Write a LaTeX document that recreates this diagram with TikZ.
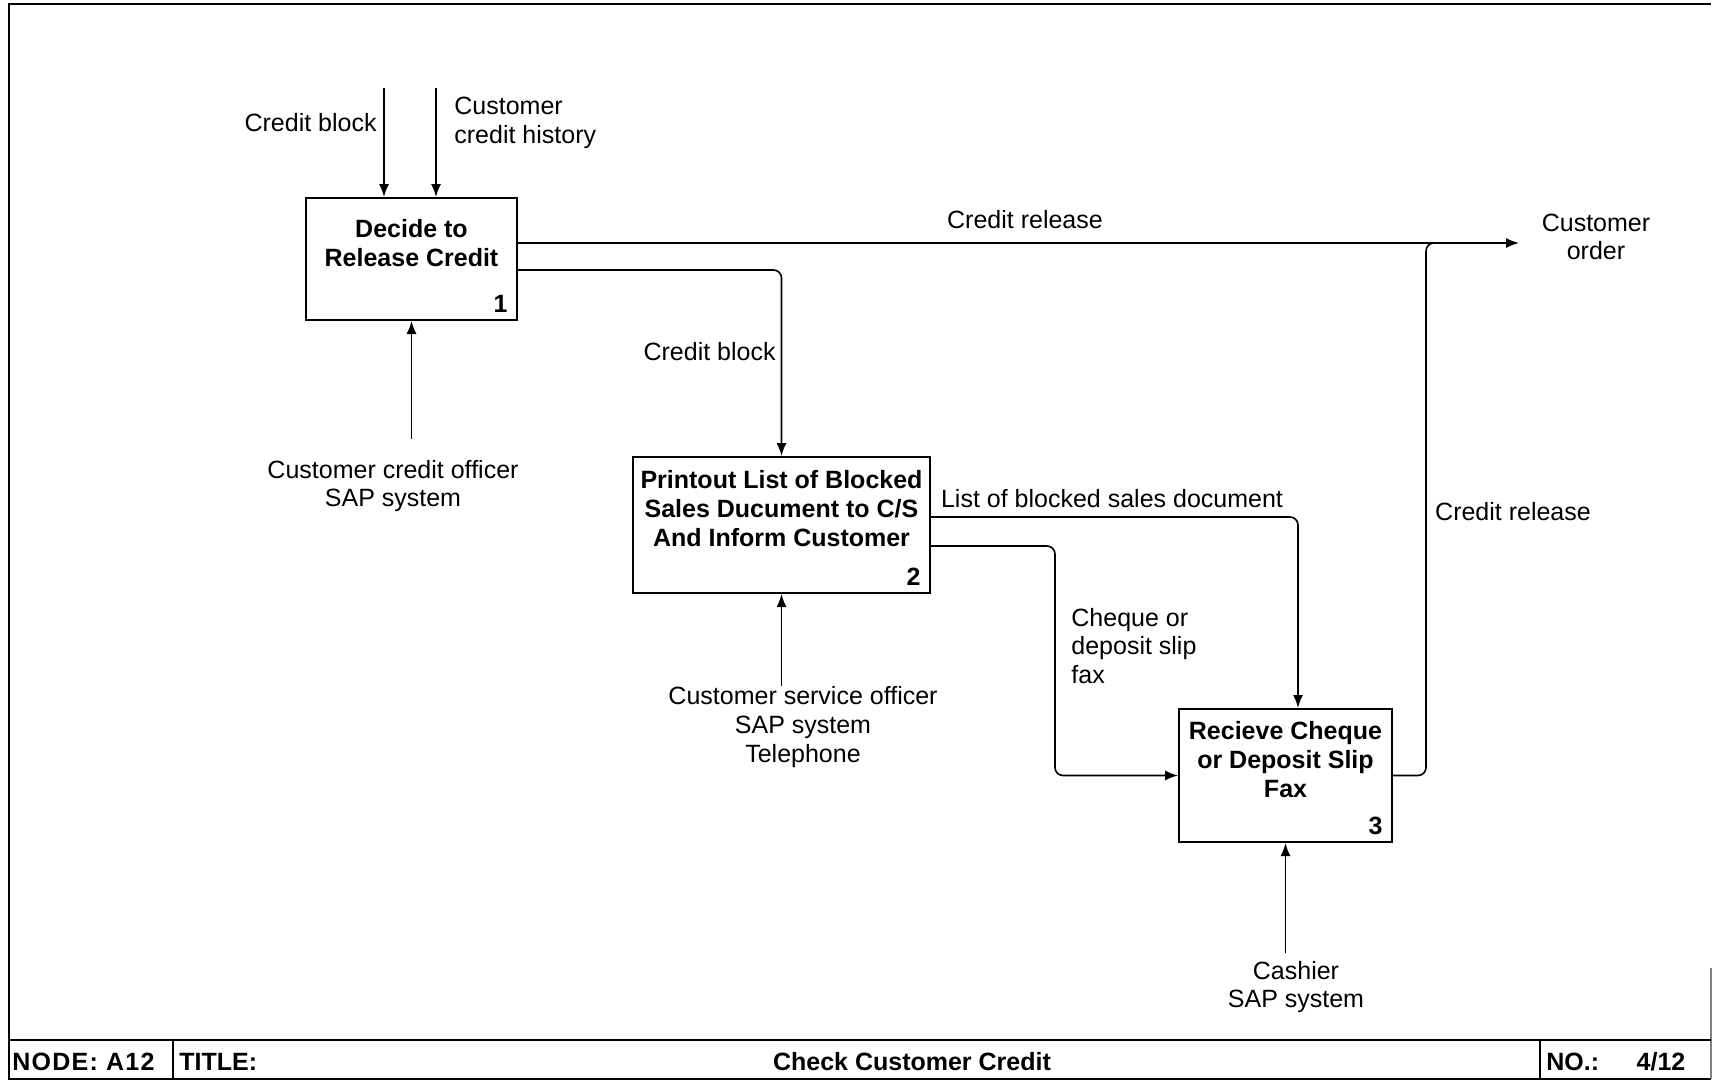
\documentclass[tikz,border=0pt]{standalone}
\usepackage{fontspec}
\setmainfont{Liberation Sans}
\usetikzlibrary{arrows.meta,positioning}

\begin{document}
\begin{tikzpicture}[x=0.5pt,y=-0.5pt,
	fn/.style = {draw, line width=1pt, inner sep=0pt},
	fntitle/.style = {align=center, inner sep=0pt, font=\fontsize{12.5}{14.5}\selectfont\bfseries},
	fnno/.style = {anchor=south east, inner sep=0pt, font=\fontsize{12.5}{14.5}\selectfont\bfseries},
	lbl/.style = {align=center, inner sep=0pt, font=\fontsize{12.5}{14.3}\selectfont},
	flow/.style = {line width=0.8pt, rounded corners=4pt, -{Latex[length=6.5pt,width=5pt]}},
	mergeline/.style = {line width=0.8pt, rounded corners=4pt},
	foot/.style = {inner sep=0pt, font=\fontsize{12.5}{14}\selectfont\bfseries}]
	\useasboundingbox (0,0) rectangle (1713,1081);
	\draw [line width=1pt] (1711,4) -- (9,4) -- (9,1079) -- (1711,1079);
	\draw [line width=0.6pt, gray] (1711,968) -- (1711,1079);

	% activity boxes
	\node [fn, minimum width=105.5pt, minimum height=61pt] (b1) at (411.5,259) {};
	\node [fntitle, below=11pt of b1.north] (t1) {Decide to\\Release Credit};
	\node [fnno] (n1) at ([xshift=-5pt,yshift=4pt]b1.south east) {1};
	\node [fn, minimum width=148.5pt, minimum height=68pt] (b2) at (781.5,525) {};
	\node [fntitle, below=7pt of b2.north] (t2) {Printout List of Blocked\\Sales Ducument to C/S\\And Inform Customer};
	\node [fnno] (n2) at ([xshift=-5pt,yshift=4pt]b2.south east) {2};
	\node [fn, minimum width=106.5pt, minimum height=66.5pt] (b3) at (1285.5,775.5) {};
	\node [fntitle, below=6.5pt of b3.north] (t3) {Recieve Cheque\\or Deposit Slip\\Fax};
	\node [fnno] (n3) at ([xshift=-5pt,yshift=4pt]b3.south east) {3};

	% free ends
	\coordinate (cbin) at (384,88);
	\coordinate (chin) at (436,88);
	\coordinate (co) at (1519,243);
	\coordinate (m1) at (411.5,439);
	\coordinate (m2) at (781.5,686);
	\coordinate (m3) at (1285.5,953);
	\coordinate (cq) at (1055,0);
	\coordinate (jn) at (1426,243);

	% connectors
	\draw [flow] (cbin) -- (cbin |- b1.north);
	\draw [flow] (chin) -- (chin |- b1.north);
	\draw [flow] ([yshift=8pt]b1.east) -- (co);
	\draw [flow] ([yshift=-5.5pt]b1.east) -| (b2.north);
	\draw [flow] (m1) -- (b1.south);
	\draw [flow] ([yshift=4pt]b2.east) -| ([xshift=6.25pt]b3.north);
	\draw [flow] ([yshift=-10.5pt]b2.east) -| (b3.west -| cq) -- (b3.west);
	\draw [flow] (m2) -- (b2.south);
	\draw [mergeline] (b3.east) -| (jn) -- ([xshift=8pt]jn);
	\draw [flow] (m3) -- (b3.south);

	% labels
	\node [lbl, anchor=east] (l1) at (377,123) {Credit block};
	\node [lbl, anchor=west, align=left] (l2) at (454,123) {Customer\\credit history};
	\node [lbl] (l3) at (1025,220) {Credit release};
	\node [lbl] (l4) at (1596,237) {Customer\\order};
	\node [lbl, anchor=east] (l5) at (776,352) {Credit block};
	\node [lbl] (l6) at (393,486) {Customer credit officer\\SAP system};
	\node [lbl] (l7) at (1112,499) {List of blocked sales document};
	\node [lbl, anchor=west, align=left] (l8) at (1071,646) {Cheque or\\deposit slip\\fax};
	\node [lbl] (l9) at (803,727) {Customer service officer\\SAP system\\Telephone};
	\node [lbl] (l10) at (1513,512) {Credit release};
	\node [lbl] (l11) at (1296,987) {Cashier\\SAP system};

	% footer
	\draw [line width=1pt] (9,1040) -- (1711,1040);
	\draw [line width=1pt] (173,1040) -- (173,1079);
	\draw [line width=1pt] (1540,1040) -- (1540,1079);
	\node [foot, anchor=west] (f1) at (12,1062) {\addfontfeatures{LetterSpace=5}NODE: A12};
	\node [foot, anchor=west] (f2) at (179,1062) {TITLE:};
	\node [foot] (f3) at (912,1062) {Check Customer Credit};
	\node [foot, anchor=west] (f4) at (1546,1062) {NO.:};
	\node [foot] (f5) at (1661,1062) {4/12};
\end{tikzpicture}
\end{document}
